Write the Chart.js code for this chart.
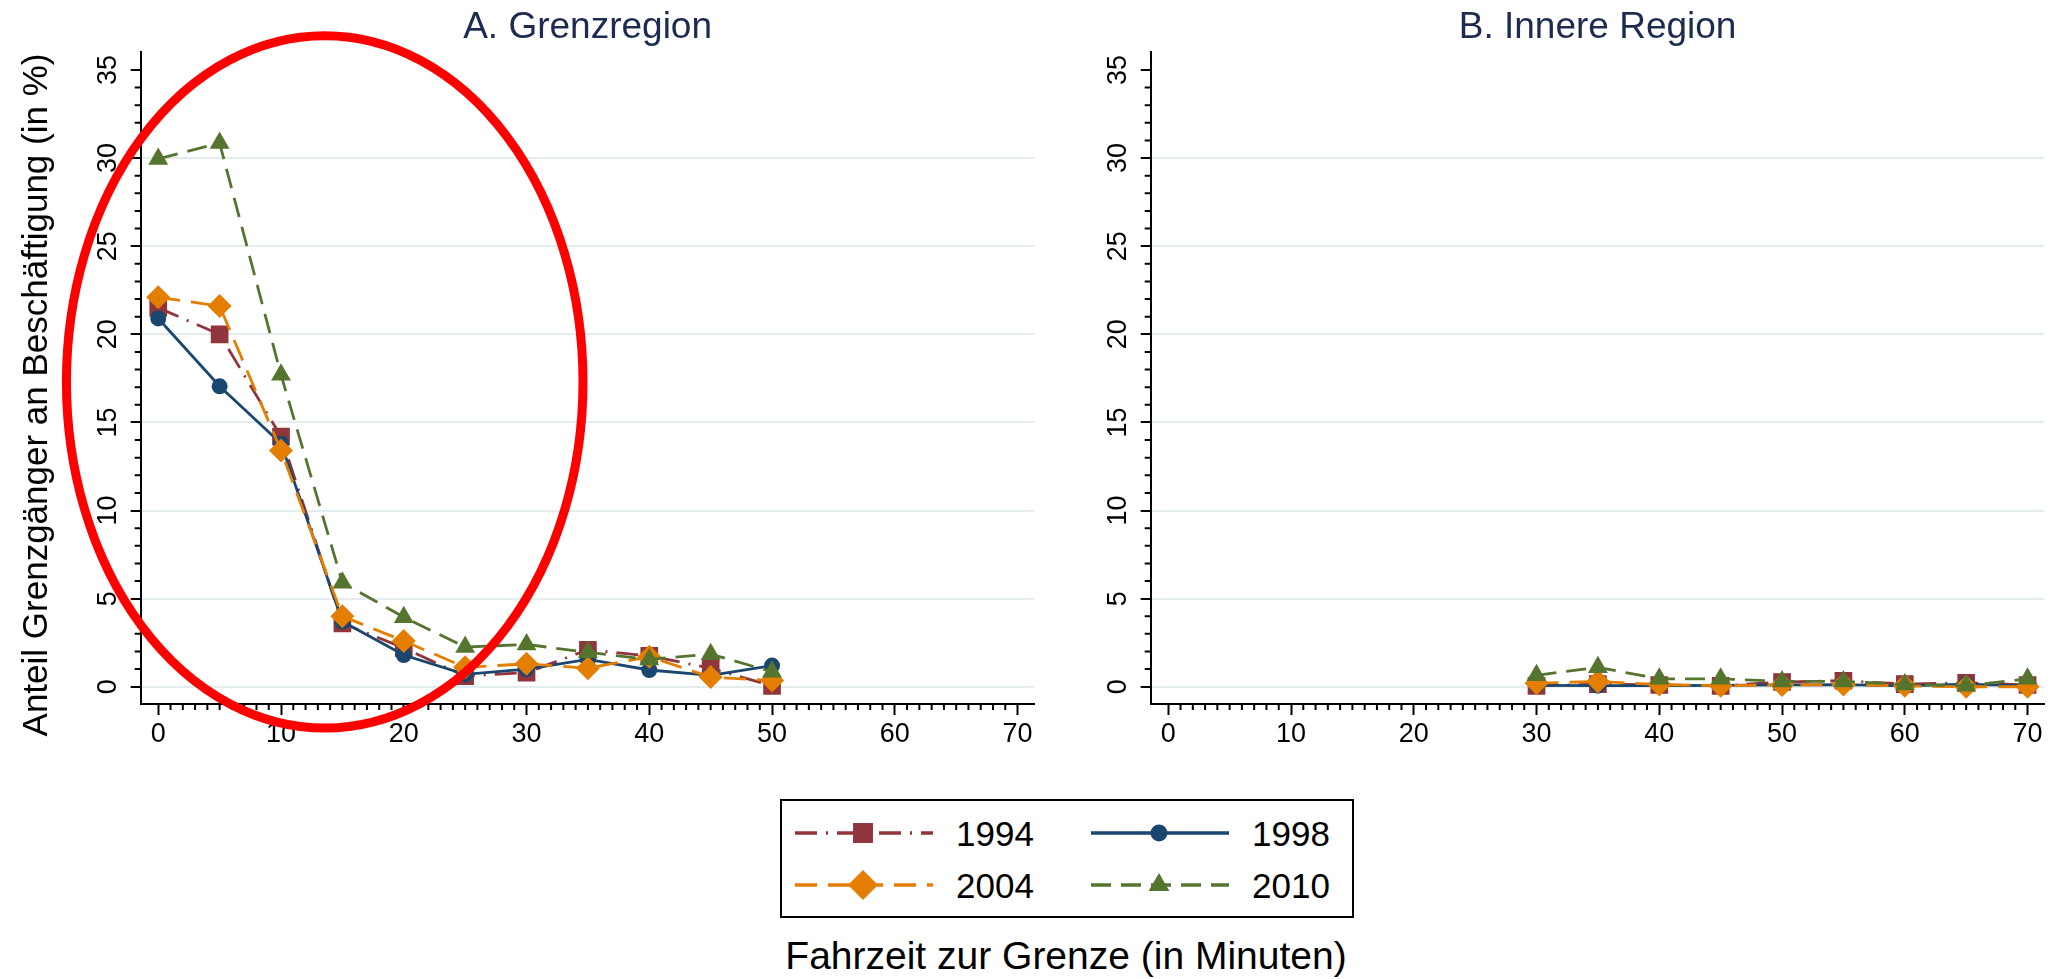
<!DOCTYPE html>
<html>
<head>
<meta charset="utf-8">
<script src="https://cdn.jsdelivr.net/npm/chart.js@4.4.1/dist/chart.umd.min.js"></script>
<style>
  body { margin: 0; background: #fff; width: 2057px; height: 979px; overflow: hidden; position: relative;
         font-family: "Liberation Sans", Arial, sans-serif; }
  canvas.panel { position: absolute; top: 0; }
  #left { left: 0; }
  #right { left: 1010px; }
  #legend { position: absolute; left: 780px; top: 799px; width: 574px; height: 119px;
            border: 2px solid #000; box-sizing: border-box; }
  .sym { position: absolute; }
  .lab { position: absolute; font-size: 35px; line-height: 40px; color: #000; }
  #xtitle { position: absolute; left: 666px; width: 800px; top: 934px; text-align: center;
            font-size: 39px; line-height: 44px; color: #000; }
</style>
</head>
<body>
<canvas id="left" class="panel" width="1047" height="790"></canvas>
<canvas id="right" class="panel" width="1047" height="790"></canvas>
<div id="legend"></div>
<div id="xtitle">Fahrzeit zur Grenze (in Minuten)</div>
<script>
// Fahrzeit in Minuten
const minutesA = [0, 5, 10, 15, 20, 25, 30, 35, 40, 45, 50];
const minutesB = [30, 35, 40, 45, 50, 55, 60, 65, 70];

// A. Grenzregion
const grenz1994 = [21.5, 20.0, 14.2, 3.6, 2.2, 0.6, 0.8, 2.1, 1.75, 1.05, 0.05];
const grenz1998 = [20.9, 17.05, 13.8, 3.7, 1.8, 0.7, 1.0, 1.55, 0.95, 0.65, 1.2];
const grenz2004 = [22.1, 21.6, 13.4, 4.0, 2.6, 1.1, 1.3, 1.05, 1.7, 0.55, 0.35];
const grenz2010 = [29.95, 30.85, 17.7, 5.9, 3.95, 2.25, 2.4, 1.95, 1.55, 1.85, 0.85];

// B. Innere Region
const innen1994 = [0.05, 0.15, 0.1, 0.05, 0.27, 0.34, 0.15, 0.22, 0.1];
const innen1998 = [0.08, 0.06, 0.06, 0.08, 0.1, 0.12, 0.05, 0.15, 0.05];
const innen2004 = [0.2, 0.3, 0.12, 0.06, 0.1, 0.12, 0.05, 0.0, 0.0];
const innen2010 = [0.65, 1.1, 0.45, 0.45, 0.3, 0.3, 0.13, 0.05, 0.45];

const yTicks = [0, 5, 10, 15, 20, 25, 30, 35];
const xTicks = [0, 10, 20, 30, 40, 50, 60, 70];

const FONT = '"Liberation Sans", Arial, sans-serif';
Chart.defaults.font.family = FONT;

const styles = [
  { label: '1994', color: '#90353b', dash: [22, 9, 2, 9], point: 'rect', r: 12.5, legendR: 14.1 },
  { label: '1998', color: '#1a476f', dash: [], point: 'circle', r: 8, legendR: 8.5 },
  { label: '2004', color: '#e37e00', dash: [22, 11], point: 'rectRot', r: 12, legendR: 15 },
  { label: '2010', color: '#55752f', dash: [20, 10], point: 'triangle', r: 11.5, legendR: 12 }
];

// red ring drawn over panel A (in data units)
const ring = { x: 13.56, y: 17.3, rx: 21.04, ry: 19.64 };

const panelDeco = {
  id: 'panelDeco',
  afterDraw(chart, args, o) {
    const { ctx, chartArea: a, scales: { x, y } } = chart;
    ctx.save();
    // minor ticks
    ctx.strokeStyle = '#000';
    ctx.lineWidth = 2;
    ctx.beginPath();
    for (let v = 0; v <= 35; v++) {
      if (v % 5 === 0) continue;
      const py = y.getPixelForValue(v);
      ctx.moveTo(a.left - 6, py); ctx.lineTo(a.left, py);
    }
    for (let v = 0; v <= 70; v++) {
      if (v % 10 === 0) continue;
      const px = x.getPixelForValue(v);
      ctx.moveTo(px, a.bottom); ctx.lineTo(px, a.bottom + 6);
    }
    ctx.stroke();

    // rotated y tick labels
    ctx.fillStyle = '#000';
    ctx.font = '27px ' + FONT;
    ctx.textAlign = 'center';
    ctx.textBaseline = 'middle';
    yTicks.forEach(v => {
      ctx.save();
      ctx.translate(a.left - 32.5, y.getPixelForValue(v));
      ctx.rotate(-Math.PI / 2);
      ctx.fillText(String(v), 0, 0);
      ctx.restore();
    });

    // panel title
    ctx.fillStyle = '#1c2b4f';
    ctx.font = '37px ' + FONT;
    ctx.textBaseline = 'alphabetic';
    ctx.fillText(o.title, (a.left + a.right) / 2, 38);

    if (o.yTitle) {
      ctx.save();
      ctx.fillStyle = '#000';
      ctx.font = '35px ' + FONT;
      ctx.textBaseline = 'middle';
      ctx.translate(37, 395);
      ctx.rotate(-Math.PI / 2);
      ctx.fillText(o.yTitle, 0, 0);
      ctx.restore();
    }

    if (o.ring) {
      const cx = x.getPixelForValue(o.ring.x), cy = y.getPixelForValue(o.ring.y);
      const rx = x.getPixelForValue(o.ring.x + o.ring.rx) - cx;
      const ry = cy - y.getPixelForValue(o.ring.y + o.ring.ry);
      ctx.strokeStyle = '#ff0000';
      ctx.lineWidth = 9;
      ctx.beginPath();
      ctx.ellipse(cx, cy, rx, ry, 0, 0, Math.PI * 2);
      ctx.stroke();
    }
    ctx.restore();
  }
};

function makeDatasets(minutes, lists) {
  return styles.map((s, i) => ({
    label: s.label,
    data: minutes.map((m, j) => ({ x: m, y: lists[i][j] })),
    borderColor: s.color,
    backgroundColor: s.color,
    borderWidth: 2.8,
    borderDash: s.dash,
    tension: 0,
    pointStyle: s.point,
    pointRadius: s.r,
    pointBackgroundColor: s.color,
    pointBorderColor: s.color,
    pointBorderWidth: 0,
    order: 4 - i
  }));
}

function makePanel(id, minutes, lists, deco) {
  return new Chart(document.getElementById(id), {
    type: 'line',
    data: { datasets: makeDatasets(minutes, lists) },
    plugins: [panelDeco],
    options: {
      responsive: false,
      animation: false,
      layout: { padding: { top: 52, right: 8, left: 0, bottom: 0 } },
      plugins: { legend: { display: false }, tooltip: { enabled: false }, panelDeco: deco },
      scales: {
        x: {
          type: 'linear', min: -1.43, max: 71.38,
          afterBuildTicks: s => { s.ticks = xTicks.map(v => ({ value: v })); },
          afterFit: s => { s.height = 86; },
          grid: { display: true, drawOnChartArea: false, drawTicks: true, tickLength: 11, tickColor: '#000', tickWidth: 2 },
          border: { display: true, color: '#000', width: 2 },
          ticks: { color: '#000', font: { size: 27 }, padding: 3, maxRotation: 0, autoSkip: false }
        },
        y: {
          type: 'linear', min: -0.98, max: 36.02,
          afterBuildTicks: s => { s.ticks = yTicks.map(v => ({ value: v })); },
          afterFit: s => { s.width = 140.7; },
          grid: {
            color: c => (c.tick && c.tick.value === 35) ? 'rgba(0,0,0,0)' : '#e3edee',
            lineWidth: 2, drawTicks: true, tickLength: 10, tickColor: '#000', tickWidth: 2
          },
          border: { display: true, color: '#000', width: 2 },
          ticks: { display: false }
        }
      }
    }
  });
}

makePanel('left', minutesA, [grenz1994, grenz1998, grenz2004, grenz2010],
  { title: 'A. Grenzregion', yTitle: 'Anteil Grenzgänger an Beschäftigung (in %)', ring: ring });
makePanel('right', minutesB, [innen1994, innen1998, innen2004, innen2010],
  { title: 'B. Innere Region' });

// legend: 2 x 2 items, line sample with marker
const legendSlots = [
  { sx: 15, sy: 14, lx: 176, ly: 15 },   // 1994
  { sx: 311, sy: 14, lx: 472, ly: 15 },  // 1998
  { sx: 15, sy: 66, lx: 176, ly: 67 },   // 2004
  { sx: 311, sy: 66, lx: 472, ly: 67 }   // 2010
];
const legend = document.getElementById('legend');
styles.forEach((s, i) => {
  const slot = legendSlots[i];
  const cv = document.createElement('canvas');
  cv.className = 'sym';
  cv.width = 138; cv.height = 40;
  cv.style.left = (slot.sx - 2) + 'px';
  cv.style.top = (slot.sy - 2) + 'px';
  legend.appendChild(cv);
  const c = cv.getContext('2d');
  c.strokeStyle = s.color;
  c.fillStyle = s.color;
  c.lineWidth = 3.5;
  c.setLineDash(s.dash);
  c.beginPath(); c.moveTo(0, 20); c.lineTo(138, 20); c.stroke();
  c.setLineDash([]);
  Chart.helpers.drawPoint(c, { pointStyle: s.point, radius: s.legendR, rotation: 0, borderWidth: 0 }, 68, 20);

  const lab = document.createElement('div');
  lab.className = 'lab';
  lab.textContent = s.label;
  lab.style.left = (slot.lx - 2) + 'px';
  lab.style.top = (slot.ly - 2) + 'px';
  legend.appendChild(lab);
});
</script>
</body>
</html>
